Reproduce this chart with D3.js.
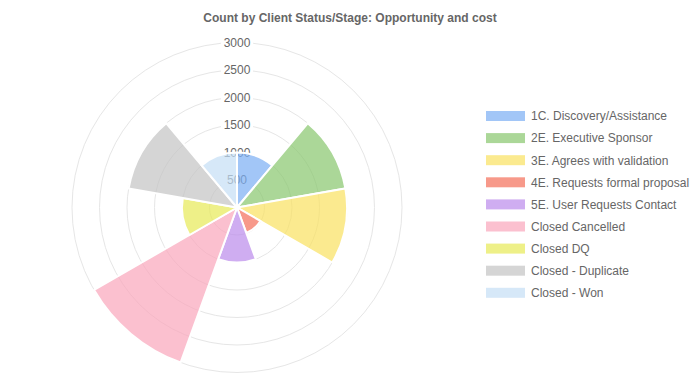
<!DOCTYPE html>
<html>
<head>
<meta charset="utf-8">
<script src="https://cdn.jsdelivr.net/npm/d3@7"></script>
<style>
  html, body { margin: 0; padding: 0; background: #fff; }
  svg text { font-family: "Liberation Sans", Arial, Helvetica, sans-serif; }
</style>
</head>
<body>
<svg id="chart" width="700" height="375"></svg>
<script>
// --- data ---
const categories = [
  '1C. Discovery/Assistance',
  '2E. Executive Sponsor',
  '3E. Agrees with validation',
  '4E. Requests formal proposal',
  '5E. User Requests Contact',
  'Closed Cancelled',
  'Closed DQ',
  'Closed - Duplicate',
  'Closed - Won'
];
const counts = [1000, 2000, 2000, 490, 1000, 3000, 1000, 2000, 1000];
const colors = ['#7aaef4', '#88c66c', '#f9e160', '#f46d58', '#ba8aeb',
                '#f9a5ba', '#e7ea55', '#c3c3c3', '#c4def5'];
const ticks = [500, 1000, 1500, 2000, 2500, 3000];
const title = 'Count by Client Status/Stage: Opportunity and cost';

// --- setup ---
const svg = d3.select('#chart');
const cx = 237, cy = 207.5;
const r = d3.scaleLinear().domain([0, 3000]).range([0, 165]);

svg.append('text')
  .attr('x', 350).attr('y', 22)
  .attr('text-anchor', 'middle')
  .attr('font-size', 12).attr('font-weight', 'bold')
  .attr('fill', '#666')
  .text(title);

const g = svg.append('g').attr('transform', `translate(${cx},${cy})`);

// grid rings
g.selectAll('circle.grid')
  .data(ticks)
  .join('circle')
  .attr('class', 'grid')
  .attr('r', d => r(d))
  .attr('fill', 'none')
  .attr('stroke', '#e6e6e6')
  .attr('stroke-width', 1);

// tick labels with white backdrop
const tickG = g.selectAll('g.tick')
  .data(ticks)
  .join('g')
  .attr('class', 'tick')
  .attr('transform', d => `translate(0,${-r(d)})`);

tickG.append('rect')
  .attr('x', -16).attr('y', -8)
  .attr('width', 32).attr('height', 16)
  .attr('fill', '#fff');

tickG.append('text')
  .attr('text-anchor', 'middle')
  .attr('dy', '0.36em')
  .attr('font-size', 12)
  .attr('fill', '#666')
  .text(d => d);

// segments
const step = 2 * Math.PI / categories.length;
const arc = d3.arc().innerRadius(0);

g.selectAll('path.seg')
  .data(counts)
  .join('path')
  .attr('class', 'seg')
  .attr('d', (d, i) => arc({ outerRadius: r(d), startAngle: i * step, endAngle: (i + 1) * step }))
  .attr('fill', (d, i) => colors[i])
  .attr('fill-opacity', 0.7)
  .attr('stroke', '#fff')
  .attr('stroke-width', 2);

// legend
const legend = svg.append('g').attr('transform', 'translate(486,116)');
const item = legend.selectAll('g.item')
  .data(categories)
  .join('g')
  .attr('class', 'item')
  .attr('transform', (d, i) => `translate(0,${i * 22.1})`);

item.append('rect')
  .attr('x', 0).attr('y', -5)
  .attr('width', 39).attr('height', 10)
  .attr('fill', (d, i) => colors[i])
  .attr('fill-opacity', 0.7);

item.append('text')
  .attr('x', 45).attr('dy', '0.36em')
  .attr('font-size', 12)
  .attr('fill', '#666')
  .text(d => d);
</script>
</body>
</html>
